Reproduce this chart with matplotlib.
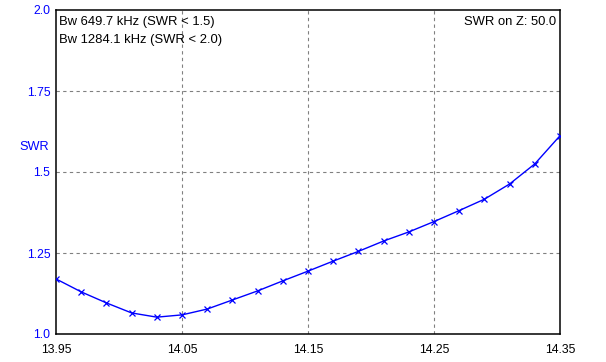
#!/usr/bin/env python3
import numpy as np
import matplotlib
matplotlib.use("Agg")
import matplotlib.pyplot as plt

plt.rcParams["font.family"] = ["Liberation Sans", "DejaVu Sans"]

# frequency in MHz, SWR
freq = [13.95, 13.97, 13.99, 14.01, 14.03, 14.05, 14.07, 14.09, 14.11, 14.13,
        14.15, 14.17, 14.19, 14.21, 14.23, 14.25, 14.27, 14.29, 14.31, 14.33, 14.35]
swr = [1.170, 1.130, 1.096, 1.065, 1.052, 1.059, 1.077, 1.105, 1.133, 1.164,
       1.194, 1.225, 1.255, 1.287, 1.315, 1.347, 1.381, 1.416, 1.463, 1.525, 1.612]

xticks = [13.95, 14.05, 14.15, 14.25, 14.35]
yticks = [1.0, 1.25, 1.5, 1.75, 2.0]
ytick_labels = ["1.0", "1.25", "1.5", "1.75", "2.0"]

fig = plt.figure(figsize=(6.06, 3.62), dpi=100)
W, H = 606, 362
ax = fig.add_axes([56 / W, 1 - 334 / H, (560 - 56) / W, (334 - 10) / H])

ax.plot(freq, swr, color="blue", lw=1.0, marker="x", ms=5, mew=0.9, zorder=3)

ax.set_xlim(13.95, 14.35)
ax.set_ylim(1.0, 2.0)
ax.set_xticks(xticks)
ax.set_xticklabels([f"{v:.2f}" for v in xticks])
ax.set_yticks(yticks)
ax.set_yticklabels(ytick_labels)
ax.tick_params(length=0, labelsize=8.8, pad=4)
ax.tick_params(axis="y", labelcolor="blue", pad=4)
ax.tick_params(axis="x", pad=7)

for v in xticks[1:-1]:
    ax.axvline(v, color="gray", lw=0.8, ls=(0, (3, 3)), zorder=1)
for v in yticks[1:-1]:
    ax.axhline(v, color="gray", lw=0.8, ls=(0, (3, 3)), zorder=1)

for s in ax.spines.values():
    s.set_linewidth(1.1)
    s.set_color("black")

ax.text(0.006, 0.962, "Bw 649.7 kHz (SWR < 1.5)", transform=ax.transAxes,
        fontsize=9.4, va="center", ha="left")
ax.text(0.006, 0.907, "Bw 1284.1 kHz (SWR < 2.0)", transform=ax.transAxes,
        fontsize=9.4, va="center", ha="left")
ax.text(0.992, 0.962, "SWR on Z: 50.0", transform=ax.transAxes,
        fontsize=9.4, va="center", ha="right")

fig.text(34 / W, 1 - 147 / H, "SWR", color="blue", fontsize=9.2,
         ha="center", va="center")

fig.savefig("out.png", dpi=100)
